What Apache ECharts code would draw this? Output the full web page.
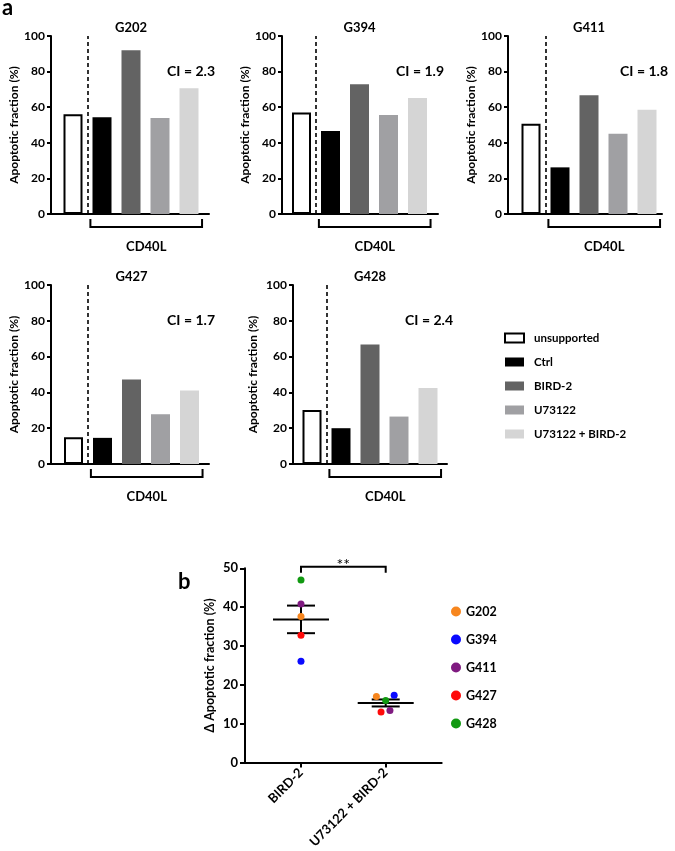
<!DOCTYPE html>
<html><head><meta charset="utf-8">
<script src="https://cdn.jsdelivr.net/npm/echarts@6/dist/echarts.min.js"></script>
<style>html,body{margin:0;padding:0;background:#fff}#c{width:675px;height:851px}</style>
</head><body><div id="c"></div>
<script>
// ---------- data ----------
const cellLines = ['G202', 'G394', 'G411', 'G427', 'G428'];
const treatments = ['unsupported', 'Ctrl', 'BIRD-2', 'U73122', 'U73122 + BIRD-2'];
const unsupported = [56, 57, 50.7, 15, 30.2];
const ctrl = [54.3, 46.6, 26.2, 14.6, 20];
const bird2 = [92, 72.9, 66.7, 47.2, 66.8];
const u73122 = [54, 55.6, 45.1, 27.8, 26.5];
const u73122Bird2 = [70.6, 65.2, 58.6, 41.1, 42.4];
const ciValues = ['2.3', '1.9', '1.8', '1.7', '2.4'];
const groupLabel = 'CD40L';

const deltaCategories = ['BIRD-2', 'U73122 + BIRD-2'];
const deltaBird2 = [37.6, 26.05, 40.8, 32.8, 47];
const deltaU73122Bird2 = [17.0, 17.3, 13.4, 13.0, 16.0];
const jitterU73122Bird2 = [-0.11, 0.10, 0.05, -0.055, 0];
const significance = '**';

// ---------- styles / layout ----------
const FONT = 'Lato';
const barColors = ['#ffffff', '#000000', '#636363', '#a0a0a3', '#d5d5d5'];
const dotColors = ['#f7861e', '#0a0aff', '#7f1a80', '#ff0a0a', '#119911'];
const SP = 29; // px between bar centres
const panels = [
  { left: 51, top: 36, width: 158, height: 178, f: 22, nameGap: 29 },
  { left: 282, top: 36, width: 156, height: 178, f: 19.5, nameGap: 31 },
  { left: 508, top: 36, width: 154, height: 178, f: 23, nameGap: 28 },
  { left: 51, top: 285, width: 158, height: 179, f: 22.5, nameGap: 30 },
  { left: 293, top: 285, width: 154, height: 179, f: 19, nameGap: 34 }
];
const gridB = { left: 245, top: 568.3, width: 196.7, height: 195 };

const valuesByTreatment = [unsupported, ctrl, bird2, u73122, u73122Bird2];

function mean(a) { return a.reduce((s, v) => s + v, 0) / a.length; }
function sem(a) {
  const m = mean(a);
  const sd = Math.sqrt(a.reduce((s, v) => s + (v - m) * (v - m), 0) / (a.length - 1));
  return sd / Math.sqrt(a.length);
}

const grids = [], xAxes = [], yAxes = [], series = [];
const axisLine = { show: true, onZero: false, lineStyle: { color: '#000', width: 2 } };

panels.forEach((p, i) => {
  grids.push({ left: p.left, top: p.top, width: p.width, height: p.height });
  xAxes.push({
    type: 'value', gridIndex: i, min: -p.f / SP, max: (p.width - p.f) / SP,
    axisLine: axisLine, axisTick: { show: false }, axisLabel: { show: false }, splitLine: { show: false }
  });
  yAxes.push({
    type: 'value', gridIndex: i, min: 0, max: 100, interval: 20,
    name: 'Apoptotic fraction (%)', nameLocation: 'middle', nameGap: p.nameGap,
    nameTextStyle: { fontFamily: FONT, fontWeight: 'bold', fontSize: 12, color: '#000' },
    axisLine: axisLine, axisTick: { show: true, length: 4, lineStyle: { color: '#000', width: 2 } },
    axisLabel: { fontFamily: FONT, fontWeight: 'bold', fontSize: 12, color: '#000', margin: 6 },
    splitLine: { show: false }
  });
  treatments.forEach((t, k) => {
    const s = {
      type: 'bar', name: t, xAxisIndex: i, yAxisIndex: i, barWidth: 19, barGap: '-100%',
      data: [[k, valuesByTreatment[k][i]]],
      itemStyle: k === 0 ? { color: '#fff', borderColor: '#000', borderWidth: 2 } : { color: barColors[k] },
      emphasis: { disabled: true }, animation: false
    };
    if (k === 0) {
      s.markLine = {
        silent: true, symbol: 'none', label: { show: false },
        lineStyle: { color: '#000', width: 1.6, type: [4, 3] },
        data: [{ xAxis: 0.5 }]
      };
    }
    series.push(s);
  });
});

// panel b
grids.push(gridB);
xAxes.push({
  type: 'value', gridIndex: 5, min: -0.661, max: 1.661,
  axisLine: axisLine,
  axisTick: { show: true, length: 5, customValues: [0, 1], lineStyle: { color: '#000', width: 2 } },
  axisLabel: {
    customValues: [0, 1], rotate: 45, margin: 8,
    formatter: v => deltaCategories[Math.round(v)],
    fontFamily: FONT, fontWeight: 'bold', fontSize: 13, color: '#000'
  },
  splitLine: { show: false }
});
yAxes.push({
  type: 'value', gridIndex: 5, min: 0, max: 50, interval: 10,
  name: '\u0394 Apoptotic fraction (%)', nameLocation: 'middle', nameGap: 29,
  nameTextStyle: { fontFamily: FONT, fontWeight: 'bold', fontSize: 12.5, color: '#000' },
  axisLine: axisLine, axisTick: { show: true, length: 5, lineStyle: { color: '#000', width: 2 } },
  axisLabel: { fontFamily: FONT, fontWeight: 'bold', fontSize: 13, color: '#000', margin: 7 },
  splitLine: { show: false }
});

const groups = [deltaBird2, deltaU73122Bird2];
const summary = groups.map((g, j) => {
  const m = mean(g), e = sem(g);
  return [j, m, m - e, m + e];
});
series.push({
  type: 'custom', xAxisIndex: 5, yAxisIndex: 5, z: 2, silent: true, animation: false,
  encode: { x: 0, y: [1, 2, 3] },
  data: summary,
  renderItem: function (params, api) {
    const x = api.value(0), m = api.value(1), lo = api.value(2), hi = api.value(3);
    const pm = api.coord([x, m]), pl = api.coord([x, lo]), ph = api.coord([x, hi]);
    const st = { stroke: '#000', lineWidth: 2 };
    return {
      type: 'group', children: [
        { type: 'line', shape: { x1: pm[0] - 28, y1: pm[1], x2: pm[0] + 28, y2: pm[1] }, style: st },
        { type: 'line', shape: { x1: pl[0], y1: pl[1], x2: ph[0], y2: ph[1] }, style: st },
        { type: 'line', shape: { x1: pl[0] - 14, y1: pl[1], x2: pl[0] + 14, y2: pl[1] }, style: st },
        { type: 'line', shape: { x1: ph[0] - 14, y1: ph[1], x2: ph[0] + 14, y2: ph[1] }, style: st }
      ]
    };
  }
});
cellLines.forEach((c, i) => {
  series.push({
    type: 'scatter', name: c, xAxisIndex: 5, yAxisIndex: 5, z: 5,
    symbol: 'circle', symbolSize: 7, itemStyle: { color: dotColors[i], opacity: 1 },
    data: [[0, deltaBird2[i]], [1 + jitterU73122Bird2[i], deltaU73122Bird2[i]]],
    emphasis: { disabled: true }, animation: false
  });
});

const option = {
  animation: false,
  backgroundColor: '#fff',
  grid: grids, xAxis: xAxes, yAxis: yAxes, series: series,
  legend: [
    {
      data: treatments, orient: 'vertical', left: 499, top: 327,
      itemWidth: 19, itemHeight: 9, itemGap: 12, icon: 'rect', selectedMode: false,
      textStyle: { fontFamily: FONT, fontWeight: 'bold', fontSize: 11.5, color: '#000', padding: [0, 0, 0, 5] }
    },
    {
      data: cellLines, orient: 'vertical', left: 446, top: 600,
      itemWidth: 10, itemHeight: 10, itemGap: 15, icon: 'circle', selectedMode: false,
      textStyle: { fontFamily: FONT, fontWeight: 'bold', fontSize: 12.5, color: '#000' }
    }
  ]
};

const chart = echarts.init(document.getElementById('c'), null, { renderer: 'canvas' });
chart.setOption(option);

// annotations computed from axis coordinates
const g = [];
const txt = (x, y, text, size, align, weight, vAlign) => ({
  type: 'text', x: x, y: y, silent: true,
  style: { text: text, fontFamily: FONT, fontSize: size, fontWeight: weight || 'bold', fill: '#000', align: align || 'center', verticalAlign: vAlign || 'middle' }
});
panels.forEach((p, i) => {
  const c = v => chart.convertToPixel({ gridIndex: i }, v);
  const bottom = c([0, 0])[1];
  const top = c([0, 100])[1];
  g.push(txt(c([2, 0])[0], top - 8, cellLines[i], 13));
  g.push(txt(p.left + p.width + 6, c([0, 80])[1], 'CI = ' + ciValues[i], 14, 'right'));
  const x0 = c([0.6, 0])[0], x1 = c([4.45, 0])[0], yb = bottom + 13;
  g.push({ type: 'polyline', silent: true, shape: { points: [[x0, yb - 8], [x0, yb], [x1, yb], [x1, yb - 8]] }, style: { stroke: '#000', lineWidth: 2, fill: null } });
  g.push(txt((x0 + x1) / 2, bottom + 33, groupLabel, 13));
});
{
  const c = v => chart.convertToPixel({ gridIndex: 5 }, v);
  const a = c([0, 50]), b = c([1, 50]);
  const yb = a[1] - 1.6;
  g.push({ type: 'polyline', silent: true, shape: { points: [[a[0], yb + 6], [a[0], yb], [b[0], yb], [b[0], yb + 6]] }, style: { stroke: '#000', lineWidth: 2, fill: null } });
  g.push(txt((a[0] + b[0]) / 2, yb - 2, significance, 16, 'center', 'normal'));
}
g.push(txt(2, 8, 'a', 22, 'left'));
g.push(txt(178, 582, 'b', 22, 'left'));
chart.setOption({ graphic: { elements: g } });
</script></body></html>
